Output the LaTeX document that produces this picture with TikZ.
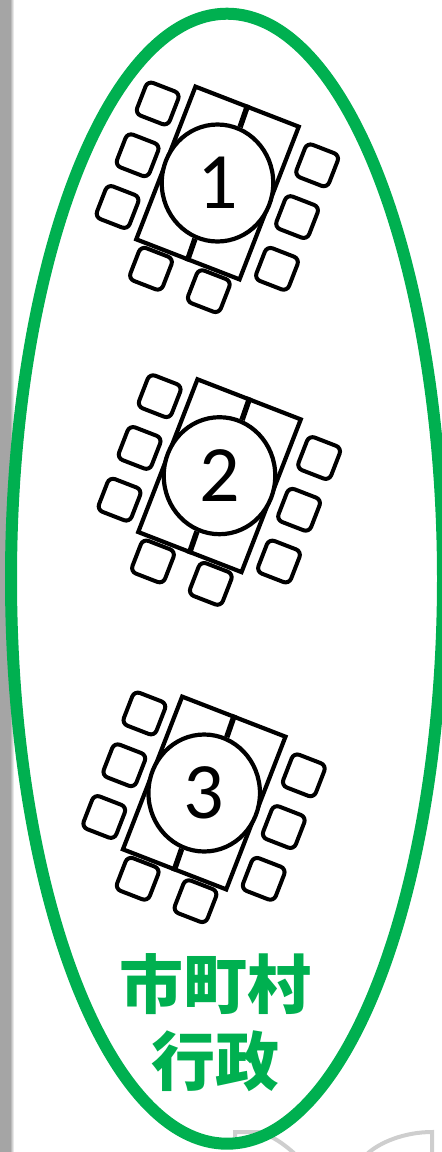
\documentclass[tikz,border=0pt]{standalone}
\usepackage{fontspec}
\usetikzlibrary{shapes.geometric}
\setmainfont{Carlito}
\newfontfamily\cjk{Noto Sans CJK JP}
\definecolor{groupgreen}{RGB}{0,176,80}
\definecolor{edgegray}{RGB}{165,165,165}
\tikzset{
    tablebox/.style={draw, line width=4.2pt, inner sep=0, minimum width=110.8pt, minimum height=163.8pt},
    chairbox/.style={draw, line width=4pt, inner sep=0, minimum size=35pt, rounded corners=6pt},
    seatcircle/.style={draw, ellipse, fill=white, line width=4.2pt, inner sep=0, minimum width=111.5pt, minimum height=117pt, font=\fontsize{80}{80}\selectfont},
    divider/.style={line width=5.5pt},
    grouplabel/.style={text=groupgreen, align=center, font=\cjk\bfseries\fontsize{64}{77}\selectfont},
    sheetedge/.style={edgegray, line width=4pt, opacity=0.55}
}

\begin{document}
\begin{tikzpicture}[x=1pt, y=-1pt]
    \useasboundingbox (0, 0) rectangle (442, 1152);
    \clip (0, 0) rectangle (442, 1152);

    % Draw page edge
    \fill[edgegray] (0, 0) rectangle (10, 1152);
    \shade[left color=edgegray, right color=white] (10, 0) rectangle (14, 1152);
    \draw[sheetedge] (235, 1137) -- (235, 1132) -- (258, 1132) .. controls (272, 1135) and (285, 1145) .. (295, 1154);
    \draw[sheetedge] (367, 1154) .. controls (380, 1142) and (405, 1132) .. (432, 1132) -- (432, 1154);

    % Draw group outline
    \draw[groupgreen, line width=12pt] (227, 578.7) ellipse (216 and 565);

    % Draw tables
    \foreach \n/\cx/\cy in {1/217.5/183, 2/219.5/475.7, 3/204.2/793} {
        \begin{scope}[shift={(\cx, \cy)}, rotate=-21.2, transform shape]
            \node[tablebox] (table\n) at (0, 0) {};
            \foreach \i/\u/\v in {1/-84.5/-52.5, 2/-84.5/3, 3/-84.5/58.5, 4/86.5/-52.5, 5/86.5/3, 6/86.5/58.5, 7/-31/104, 8/31/104} {
                \node[chairbox] (chair\n-\i) at (\u, \v) {};
            }
        \end{scope}
        \node[seatcircle] (seat\n) at (\cx, \cy) {\n};
        \draw[divider] (table\n.north) -- (seat\n.68.8);
        \draw[divider] (table\n.south) -- (seat\n.248.8);
    }

    \node[grouplabel] (group) at (215.5, 1023) {市町村\\行政};
\end{tikzpicture}
\end{document}
